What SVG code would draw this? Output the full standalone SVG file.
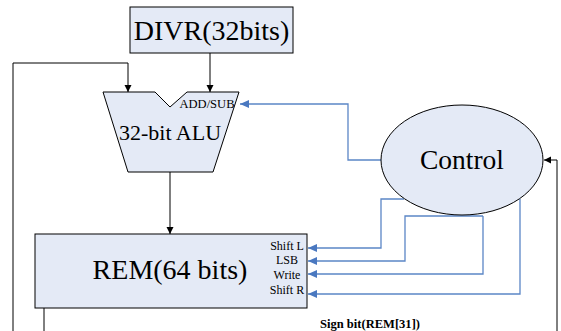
<svg xmlns="http://www.w3.org/2000/svg" width="561" height="331" viewBox="0 0 561 331">
<style>
.box{fill:#e4eaf6;stroke:#000;stroke-width:1}
.blk{fill:none;stroke:#000;stroke-width:1}
.blu{fill:none;stroke:#5b86c6;stroke-width:1.3}
.t{font-family:"Liberation Serif",serif;fill:#000}
.s{font-size:12px}
</style>
<defs>
<marker id="ab" markerWidth="8" markerHeight="8" refX="7" refY="4" orient="auto" markerUnits="userSpaceOnUse"><path d="M0,0.5 L7,4 L0,7.5z" fill="#000"/></marker>
<marker id="au" markerWidth="10" markerHeight="10" refX="9" refY="5" orient="auto" markerUnits="userSpaceOnUse"><path d="M0,1 L9,5 L0,9z" fill="#4a78c0"/></marker>
</defs>
<g id="connectors">
<path class="blk" d="M210,53 V92" marker-end="url(#ab)"/>
<path class="blk" d="M13,331 V63 H128 V92" marker-end="url(#ab)"/>
<path class="blk" d="M170,172 V234" marker-end="url(#ab)"/>
<path class="blk" d="M557,331 V160 H544" marker-end="url(#ab)"/>
<path class="blk" d="M44,308 V331"/>
<path class="blu" d="M382,160 H348 V104 H240" marker-end="url(#au)"/>
<path class="blu" d="M404,199 H381 V248 H308" marker-end="url(#au)"/>
<path class="blu" d="M483,216 H405 V261 H308" marker-end="url(#au)"/>
<path class="blu" d="M483,216 V274 H308" marker-end="url(#au)"/>
<path class="blu" d="M520,199 V294 H308" marker-end="url(#au)"/>
</g>
<g id="divr">
<rect class="box" x="130" y="7" width="163" height="46"/>
<text class="t" x="211.5" y="40" font-size="28" text-anchor="middle">DIVR(32bits)</text>
</g>
<g id="alu">
<path class="box" d="M103,92 H155 L170,107 L187,92 H239 L213,172 H128 Z"/>
<text class="t s" x="207" y="108" text-anchor="middle" textLength="55" lengthAdjust="spacingAndGlyphs">ADD/SUB</text>
<text class="t" x="170" y="140" font-size="22" text-anchor="middle">32-bit ALU</text>
</g>
<g id="control">
<ellipse class="box" cx="462" cy="160" rx="81" ry="55"/>
<text class="t" x="462" y="169" font-size="27.5" text-anchor="middle">Control</text>
</g>
<g id="rem">
<rect class="box" x="35" y="234" width="272" height="74"/>
<text class="t" x="170" y="279" font-size="28" text-anchor="middle">REM(64 bits)</text>
<text class="t s" x="287" y="250" text-anchor="middle">Shift L</text>
<text class="t s" x="287" y="264" text-anchor="middle">LSB</text>
<text class="t s" x="287" y="279" text-anchor="middle">Write</text>
<text class="t s" x="287" y="294" text-anchor="middle">Shift R</text>
</g>
<text class="t s" x="370" y="328" font-weight="bold" text-anchor="middle" textLength="100" lengthAdjust="spacingAndGlyphs">Sign bit(REM[31])</text>
</svg>
